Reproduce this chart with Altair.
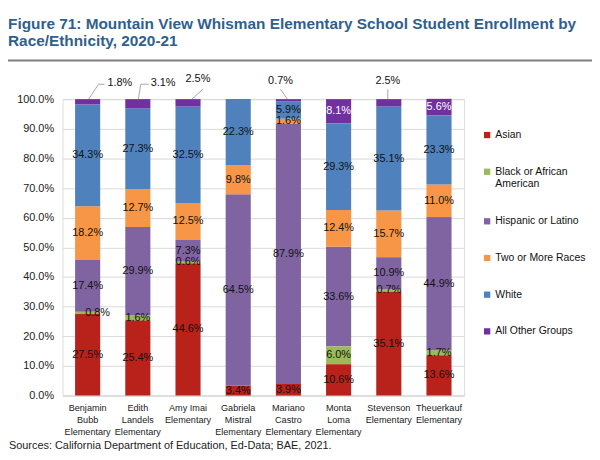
import altair as alt
import pandas as pd

schools = ["Benjamin\nBubb\nElementary", "Edith\nLandels\nElementary", "Amy Imai\nElementary",
           "Gabriela\nMistral\nElementary", "Mariano\nCastro\nElementary", "Monta\nLoma\nElementary",
           "Stevenson\nElementary", "Theuerkauf\nElementary"]
groups = ["Asian", "Black or African American", "Hispanic or Latino",
          "Two or More Races", "White", "All Other Groups"]
colors = ["#B8221B", "#9BBB59", "#8064A2", "#F79646", "#4F81BD", "#7030A0"]

asian = [27.5, 25.4, 44.6, 3.4, 3.9, 10.6, 35.1, 13.6]
black = [0.8, 1.6, 0.6, 0.0, 0.0, 6.0, 0.7, 1.7]
hispanic = [17.4, 29.9, 7.3, 64.5, 87.9, 33.6, 10.9, 44.9]
two_more = [18.2, 12.7, 12.5, 9.8, 1.6, 12.4, 15.7, 11.0]
white = [34.3, 27.3, 32.5, 22.3, 5.9, 29.3, 35.1, 23.3]
other = [1.8, 3.1, 2.5, 0.0, 0.7, 8.1, 2.5, 5.6]
series = [asian, black, hispanic, two_more, white, other]
y_ticks = [0, 10, 20, 30, 40, 50, 60, 70, 80, 90, 100]

title_lines = ["Figure 71: Mountain View Whisman Elementary School Student Enrollment by",
               "Race/Ethnicity, 2020-21"]
source_text = "Sources: California Department of Education, Ed-Data; BAE, 2021."

FONT = "Liberation Sans"

rows = []
for si, s in enumerate(schools):
    cum = 0.0
    for gi, g in enumerate(groups):
        v = series[gi][si]
        rows.append(dict(school=s, group=g, order=gi, value=v, start=cum, end=cum + v,
                         mid=cum + v / 2, label=f"{v:.1f}%"))
        cum += v
df = pd.DataFrame(rows)
df = df[df["value"] > 0].reset_index(drop=True)

# callouts (outside labels) for small top segments
callout_keys = [(0, "All Other Groups"), (1, "All Other Groups"), (2, "All Other Groups"),
                (4, "All Other Groups"), (6, "All Other Groups")]
callout_set = {(schools[i], g) for i, g in callout_keys}
is_callout = df.apply(lambda r: (r["school"], r["group"]) in callout_set, axis=1)
inside = df[~is_callout]

X = alt.X("school:N", sort=schools, title=None,
          scale=alt.Scale(paddingInner=0.5, paddingOuter=0.25),
          axis=alt.Axis(labelAngle=0, ticks=False, domainColor="#d9d9d9", labelPadding=8,
                        labelFont=FONT, labelFontSize=9.2, labelColor="#222222",
                        labelLineHeight=12, labelLimit=200,
                        labelExpr="split(datum.label, '\\n')"))
Y_SCALE = alt.Scale(domain=[0, 100], nice=False)
Y_AXIS = alt.Axis(values=y_ticks, domain=False, ticks=False, labelOverlap=False,
                  gridColor="#d9d9d9", labelPadding=9, labelFont=FONT,
                  labelFontSize=11, labelColor="#222222",
                  labelExpr="format(datum.value, '.1f') + '%'")

def Yf(field):
    return alt.Y(field, title=None, scale=Y_SCALE, axis=Y_AXIS)

bars = alt.Chart(df).mark_bar().encode(
    x=X, y=Yf("start:Q"), y2="end:Q",
    color=alt.Color("group:N", scale=alt.Scale(domain=groups, range=colors),
                    legend=alt.Legend(title=None, orient="none", legendX=423, legendY=31,
                                      symbolType="square", symbolSize=40, symbolStrokeWidth=0,
                                      labelFont=FONT, labelFontSize=10.5, labelColor="#111111",
                                      labelLimit=200, rowPadding=26, labelOffset=3,
                                      labelExpr="datum.label == 'Black or African American' ? ['Black or African', 'American'] : datum.label")),
    order=alt.Order("order:Q"),
)

def txt(data, **kw):
    return alt.Chart(data).mark_text(font=FONT, fontSize=11, baseline="middle", **kw).encode(
        x=X, y=Yf("mid:Q"), text="label:N")

bb = (inside["school"] == schools[0]) & (inside["group"] == groups[1])
white_txt = inside["group"] == "All Other Groups"
labels_black = txt(inside[~white_txt & ~bb], color="#111111")
labels_shift = txt(inside[bb], color="#111111", dx=10)
labels_white = txt(inside[white_txt], color="white")

layers = [bars, labels_black, labels_shift, labels_white]

# leader-line callouts: (school idx, text align, text dx, text y, segments)
callouts = [
    (0, "left", 20, -16, [("diag", 1, 11, -15), ("horiz", 11, 17, -15)]),
    (1, "left", 13, -16, [("diag", 0.5, 3, -15), ("horiz", 3, 11, -15)]),
    (2, "center", 10, -20, [("diag", 4, 15, -10)]),
    (4, "center", -8, -18, [("diag", -1, -8, -10)]),
    (6, "center", -1, -18, [("diag", -1, -1, -10)]),
]
for si, align, dx, ty, segs in callouts:
    d = df[(df["school"] == schools[si]) & (df["group"] == "All Other Groups")]
    layers.append(alt.Chart(d).mark_text(font=FONT, fontSize=11, align=align, dx=dx,
                                         baseline="middle", color="#111111").encode(
        x=X, y=alt.value(ty), text="label:N"))
    for kind, a, b, yy in segs:
        if kind == "diag":
            enc = dict(x=X, x2="school:N", y=Yf("end:Q"), y2=alt.value(yy))
        else:
            enc = dict(x=X, x2="school:N", y=alt.value(yy))
        layers.append(alt.Chart(d).mark_rule(xOffset=a, x2Offset=b, color="#a6a6a6",
                                             strokeWidth=1).encode(**enc))

deco = alt.Data(values=[{"k": 1}])
underline = alt.Chart(deco).mark_rule(color="#7f7f7f", strokeWidth=2).encode(
    x=alt.value(-55), x2=alt.value(534), y=alt.value(-39))
source = alt.Chart(deco).mark_text(text=source_text, font=FONT, fontSize=11, align="left",
                                   baseline="middle", color="#222222").encode(
    x=alt.value(-54), y=alt.value(350))
layers += [underline, source]

chart = alt.layer(*layers).properties(
    width=405, height=299,
    autosize=alt.AutoSizeParams(type="none"),
    padding={"left": 55, "top": 90, "right": 129, "bottom": 55},
    title=alt.TitleParams(text=title_lines, anchor="start", dx=1, offset=10,
                          font=FONT, fontSize=15.5, fontWeight="bold",
                          color="#2F5F8F", lineHeight=17),
).configure_view(stroke=None).configure(background="white")

chart.save("out.html", embed_options={"renderer": "svg", "actions": False})
